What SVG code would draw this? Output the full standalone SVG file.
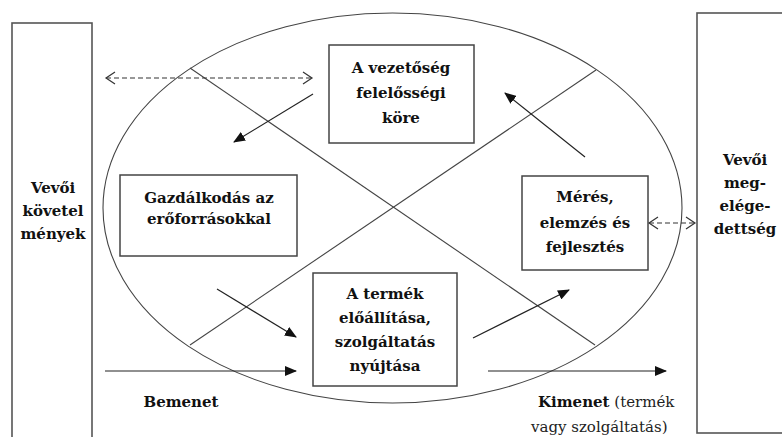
<svg xmlns="http://www.w3.org/2000/svg" width="782" height="437" viewBox="0 0 782 437">
  <style>
    .frame { fill: #fff; stroke: #555; stroke-width: 1.6; }
    .box { fill: #fff; stroke: #444; stroke-width: 1.5; }
    .guide { fill: none; stroke: #444; stroke-width: 1.1; }
    .flow { fill: none; stroke: #222; stroke-width: 1.2; }
    .dash { fill: none; stroke: #333; stroke-width: 1.2; stroke-dasharray: 5 3; }
    .lbl { font-family: "DejaVu Serif", "Liberation Serif", serif; font-size: 15px; font-weight: bold; fill: #111; text-anchor: middle; }
    .reg { font-family: "DejaVu Serif", "Liberation Serif", serif; font-size: 15px; fill: #222; }
  </style>
  <defs>
    <marker id="tri" markerUnits="userSpaceOnUse" markerWidth="12" markerHeight="10" refX="11" refY="5" orient="auto">
      <path d="M0,0 L12,5 L0,10 Z" fill="#111"/>
    </marker>
    <marker id="chev" markerUnits="userSpaceOnUse" markerWidth="12" markerHeight="14" refX="10" refY="7" orient="auto-start-reverse">
      <path d="M1,1 L10,7 L1,13" fill="none" stroke="#333" stroke-width="1.2"/>
    </marker>
  </defs>

  <!-- outer customer columns -->
  <g id="customer-requirements">
    <rect class="frame" x="12" y="23" width="80" height="420"/>
    <text class="lbl" x="53" y="193">Vevői</text>
    <text class="lbl" x="53" y="216">követel</text>
    <text class="lbl" x="53" y="239">mények</text>
  </g>
  <g id="customer-satisfaction">
    <rect class="frame" x="697" y="13" width="100" height="420"/>
    <text class="lbl" x="745" y="165">Vevői</text>
    <text class="lbl" x="745" y="188">meg-</text>
    <text class="lbl" x="745" y="211">elége-</text>
    <text class="lbl" x="745" y="234">dettség</text>
  </g>

  <!-- process cycle: ellipse with crossing diagonals -->
  <g id="cycle">
    <ellipse class="guide" cx="392.5" cy="208" rx="289.5" ry="195"/>
    <line class="guide" x1="190" y1="68" x2="595" y2="345"/>
    <line class="guide" x1="190" y1="345" x2="596" y2="70"/>
  </g>

  <g id="connectors">
    <line class="dash" x1="106" y1="78" x2="312" y2="78" marker-start="url(#chev)" marker-end="url(#chev)"/>
    <line class="dash" x1="649" y1="223" x2="695" y2="223" marker-start="url(#chev)" marker-end="url(#chev)"/>
    <line class="flow" x1="313" y1="94" x2="234" y2="142" marker-end="url(#tri)"/>
    <line class="flow" x1="585" y1="157" x2="505" y2="93" marker-end="url(#tri)"/>
    <line class="flow" x1="217" y1="289" x2="296" y2="337" marker-end="url(#tri)"/>
    <line class="flow" x1="105" y1="371" x2="296" y2="371" marker-end="url(#tri)"/>
    <line class="flow" x1="473" y1="338" x2="569" y2="290" marker-end="url(#tri)"/>
    <line class="flow" x1="488" y1="371" x2="666" y2="371" marker-end="url(#tri)"/>
  </g>

  <g id="management">
    <rect class="box" x="329" y="45" width="145" height="98"/>
    <text class="lbl" x="401" y="73">A vezetőség</text>
    <text class="lbl" x="401" y="98">felelősségi</text>
    <text class="lbl" x="401" y="123">köre</text>
  </g>
  <g id="resources">
    <rect class="box" x="120" y="175" width="177" height="81"/>
    <text class="lbl" x="209" y="203">Gazdálkodás az</text>
    <text class="lbl" x="209" y="224">erőforrásokkal</text>
  </g>
  <g id="measurement">
    <rect class="box" x="522" y="176" width="126" height="94"/>
    <text class="lbl" x="585" y="202">Mérés,</text>
    <text class="lbl" x="585" y="228">elemzés és</text>
    <text class="lbl" x="585" y="252">fejlesztés</text>
  </g>
  <g id="realization">
    <rect class="box" x="313" y="273" width="144" height="113"/>
    <text class="lbl" x="385" y="299">A termék</text>
    <text class="lbl" x="385" y="323">előállítása,</text>
    <text class="lbl" x="385" y="347">szolgáltatás</text>
    <text class="lbl" x="385" y="371">nyújtása</text>
  </g>

  <g id="io-labels">
    <text class="lbl" x="181" y="407">Bemenet</text>
    <text class="reg" x="538" y="407"><tspan font-weight="bold" fill="#111">Kimenet</tspan> (termék</text>
    <text class="reg" x="531" y="432">vagy szolgáltatás)</text>
  </g>
</svg>
